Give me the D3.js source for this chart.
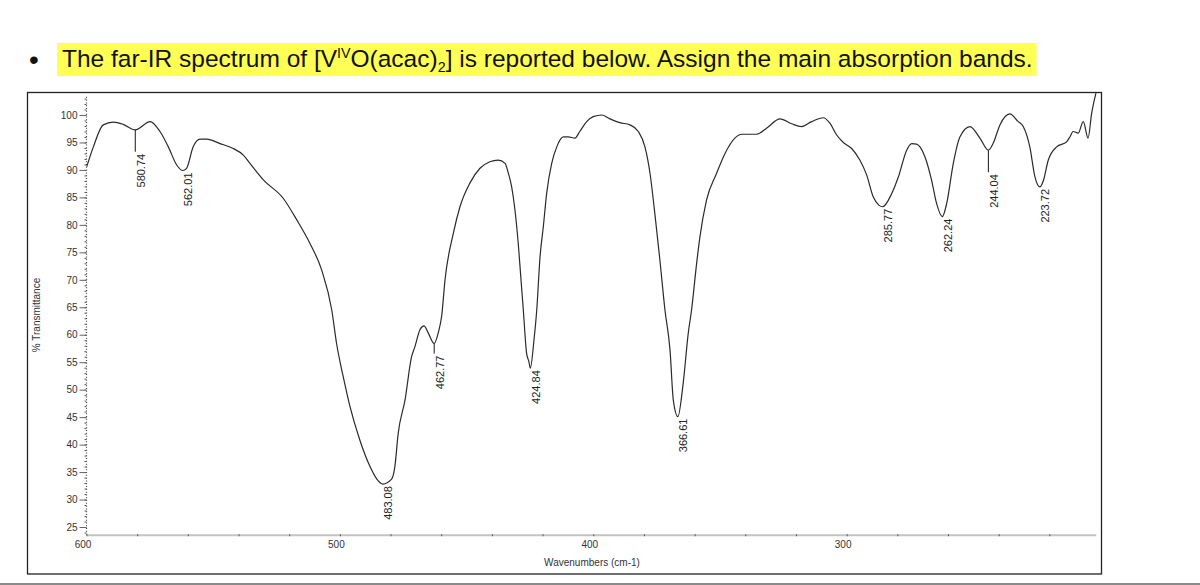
<!DOCTYPE html>
<html><head><meta charset="utf-8">
<script src="https://cdn.jsdelivr.net/npm/d3@7"></script>
<style>
body{margin:0;background:#fff;}
svg{display:block;font-family:"Liberation Sans",Arial,sans-serif;}
</style>
</head><body>
<svg id="c" width="1200" height="585"></svg>
<script>
// ---------- DATA ----------
const wavenumbers = [599.9, 597.3, 593.4, 589.4, 585.5, 580.74, 574.9, 571.0, 567.7, 564.4,
  562.01, 560.5, 557.9, 555.2, 552.6, 547.3, 542.1, 538.1, 535.5, 530.2,
  522.3, 517.0, 511.8, 507.2, 503.2, 501.3, 498.7, 496.0, 492.1, 488.1,
  485.4, 483.08, 479.6, 478.3, 477.0, 474.3, 471.7, 470.4, 468.4, 466.8, 465.1,
  462.77, 461.2, 459.8, 458.5, 455.2, 452.6, 448.7, 444.7, 440.8, 437.5,
  434.8, 433.5, 432.2, 430.9, 429.6, 428.3, 427.6, 426.3, 425.4, 424.84,
  423.4, 422.3, 421.0, 419.7, 418.4, 416.4, 414.4, 411.8, 409.9, 407.2,
  405.3, 402.6, 400.0, 396.7, 393.4, 389.5, 385.5, 382.2, 379.6, 377.6,
  375.7, 373.7, 371.7, 369.7, 368.4, 366.61, 364.5, 362.5, 361.2, 359.2,
  357.9, 355.3, 351.3, 348.0, 344.1, 341.4, 335.5, 331.6, 326.3, 321.7,
  317.8, 313.8, 309.2, 306.6, 304.0, 301.3, 298.0, 294.8, 292.1, 289.5,
  287.3, 285.77, 282.2, 279.6, 276.3, 274.3, 272.4, 269.1, 266.5, 264.5,
  262.24, 260.5, 257.9, 255.3, 251.3, 247.4, 244.04, 242.2, 239.5, 235.6,
  232.3, 230.3, 227.7, 225.7, 223.72, 222.4, 220.4, 217.1, 213.2, 211.9,
  210.6, 208.6, 206.6, 204.7, 203.3, 201.6];
const transmittance = [90.6, 94.2, 98.2, 98.7, 98.3, 97.3, 98.8, 97.0, 94.2, 90.9,
  89.9, 90.3, 94.2, 95.6, 95.6, 94.8, 93.9, 92.7, 91.2, 88.2,
  84.8, 80.9, 76.6, 71.8, 64.5, 58.4, 52.4, 46.9, 40.8, 36.0,
  33.7, 32.8, 33.7, 36.0, 42.0, 48.1, 56.0, 57.8, 60.9, 61.6, 60.3,
  58.4, 60.3, 63.5, 70.0, 78.5, 83.3, 87.6, 90.3, 91.5, 91.8,
  91.2, 89.4, 86.9, 82.7, 76.6, 68.7, 64.5, 56.6, 55.1, 53.9,
  59.0, 64.5, 74.2, 79.7, 85.7, 91.2, 94.2, 96.0, 96.0, 95.8,
  97.0, 98.8, 99.7, 100.0, 99.3, 98.6, 98.2, 97.0, 94.2, 89.4,
  82.1, 73.6, 64.5, 57.2, 48.1, 45.1, 51.2, 60.3, 64.5, 73.0,
  77.8, 84.5, 89.4, 93.0, 95.8, 96.5, 96.5, 97.6, 99.3, 98.4,
  97.9, 98.8, 99.5, 98.5, 96.4, 95.0, 93.9, 91.8, 89.1, 85.1,
  83.6, 83.3, 85.7, 88.7, 93.6, 94.8, 94.7, 92.4, 88.2, 83.9,
  81.5, 83.9, 91.2, 96.0, 97.9, 95.8, 93.6, 94.8, 98.2, 100.2,
  98.8, 97.9, 94.2, 88.8, 86.9, 88.0, 91.8, 94.2, 95.1, 96.0,
  97.0, 96.7, 98.8, 95.8, 100.3, 104.0];
const peakPositions = [580.74, 562.01, 483.08, 462.77, 424.84, 366.61, 285.77, 262.24, 244.04, 223.72];
const yTickValues = [25, 30, 35, 40, 45, 50, 55, 60, 65, 70, 75, 80, 85, 90, 95, 100];
const xTickValues = [600, 500, 400, 300];
const titleParts = ["The far-IR spectrum of [V", "IV", "O(acac)", "2", "] is reported below. Assign the main absorption bands."];
const xAxisTitle = "Wavenumbers (cm-1)";
const yAxisTitle = "% Transmittance";

// ---------- DRAWING ----------
const svg = d3.select("#c");
const x = d3.scaleLinear().domain([600, 200]).range([86.5, 1100]);
const y = d3.scaleLinear().domain([25, 100]).range([527, 115]);
const ink = "#333";

// title with highlight
const hl = svg.append("rect").attr("x", 57).attr("y", 43).attr("height", 33).attr("fill", "#ffff55");
svg.append("text").attr("x", 29).attr("y", 69).attr("font-size", 28).attr("fill", "#111").text("•");
const t = svg.append("text").attr("x", 62).attr("y", 67).attr("font-size", 24).attr("fill", "#111");
t.append("tspan").text(titleParts[0]);
t.append("tspan").attr("font-size", 14).attr("dy", -9).text(titleParts[1]);
t.append("tspan").attr("dy", 9).text(titleParts[2]);
t.append("tspan").attr("font-size", 14).attr("dy", 5).text(titleParts[3]);
t.append("tspan").attr("dy", -5).text(titleParts[4]);
const tw = t.node().getComputedTextLength();
const target = 971;
const fs = 24 * target / tw;
t.attr("font-size", fs);
t.selectAll("tspan").filter((d, i) => i === 1 || i === 3).attr("font-size", fs * 14 / 24);
hl.attr("width", t.node().getBBox().width + 9);

// frame
svg.append("rect").attr("x", 27.5).attr("y", 92.5).attr("width", 1074).attr("height", 481.5)
  .attr("fill", "none").attr("stroke", "#222").attr("stroke-width", 1.3);
svg.append("line").attr("x1", 0).attr("x2", 1200).attr("y1", 584).attr("y2", 584)
  .attr("stroke", "#8a8a8a").attr("stroke-width", 2);

// y axis: dotted spine, minor & major ticks
const yAxisX = x(600);
svg.append("line").attr("x1", yAxisX).attr("x2", yAxisX).attr("y1", y(103.3)).attr("y2", y(23.5))
  .attr("stroke", "#444").attr("stroke-width", 1.2).attr("stroke-dasharray", "1,1.8");
const yMinor = svg.append("g").attr("transform", `translate(${yAxisX},0)`)
  .call(d3.axisLeft(y).tickValues(d3.range(24, 104, 1)).tickSize(2).tickFormat(""));
yMinor.select(".domain").remove();
yMinor.selectAll("line").attr("stroke", "#555");
const yMajor = svg.append("g").attr("transform", `translate(${yAxisX},0)`)
  .call(d3.axisLeft(y).tickValues(yTickValues).tickSize(7).tickPadding(2));
yMajor.select(".domain").remove();
yMajor.selectAll("line").attr("stroke", "#666");
yMajor.selectAll("text").attr("font-size", 10).attr("fill", ink).attr("font-family", "Liberation Sans, Arial, sans-serif");

// x axis
const xAxisY = y(23.5);
svg.append("line").attr("x1", x(600)).attr("x2", x(201.5)).attr("y1", xAxisY).attr("y2", xAxisY)
  .attr("stroke", "#c4c4c4").attr("stroke-width", 2);
const xMinor = svg.append("g").attr("transform", `translate(0,${xAxisY - 1})`)
  .call(d3.axisBottom(x).tickValues(d3.range(600, 200, -20)).tickSize(2).tickFormat(""));
xMinor.select(".domain").remove();
xMinor.selectAll("line").attr("stroke", "#555");
const xMajor = svg.append("g").attr("transform", `translate(0,${xAxisY})`)
  .call(d3.axisBottom(x).tickValues(xTickValues).tickSize(0).tickPadding(6));
xMajor.select(".domain").remove();
xMajor.selectAll("text").attr("font-size", 10).attr("fill", ink).attr("dx", -4)
  .attr("font-family", "Liberation Sans, Arial, sans-serif");

// axis titles
svg.append("text").attr("x", 592).attr("y", 566).attr("text-anchor", "middle")
  .attr("font-size", 10).attr("fill", ink).text(xAxisTitle);
svg.append("text").attr("transform", `translate(40,315) rotate(-90)`).attr("text-anchor", "middle")
  .attr("font-size", 10).attr("fill", ink).text(yAxisTitle);

// spectrum
const pts = wavenumbers.map((w, i) => [w, transmittance[i]]);
const line = d3.line().x(d => x(d[0])).y(d => y(d[1])).curve(d3.curveMonotoneX);
svg.append("path").datum(pts).attr("d", line).attr("fill", "none")
  .attr("stroke", "#2a2a2a").attr("stroke-width", 1.2).attr("stroke-linejoin", "round");

// peak annotations
const leaderPx = {"580.74": 22, "462.77": 10, "244.04": 22};
peakPositions.forEach(p => {
  const i = wavenumbers.indexOf(p);
  const px = x(p), py = y(transmittance[i]);
  const lead = leaderPx[String(p)] || 0;
  if (lead) {
    svg.append("line").attr("x1", px).attr("x2", px).attr("y1", py).attr("y2", py + lead)
      .attr("stroke", "#2a2a2a").attr("stroke-width", 1.1);
  }
  svg.append("text").attr("transform", `translate(${px + 9.5},${py + lead + 2}) rotate(-90)`)
    .attr("text-anchor", "end").attr("font-size", 11).attr("fill", "#222")
    .text(p.toFixed(2));
});
</script>
</body></html>
